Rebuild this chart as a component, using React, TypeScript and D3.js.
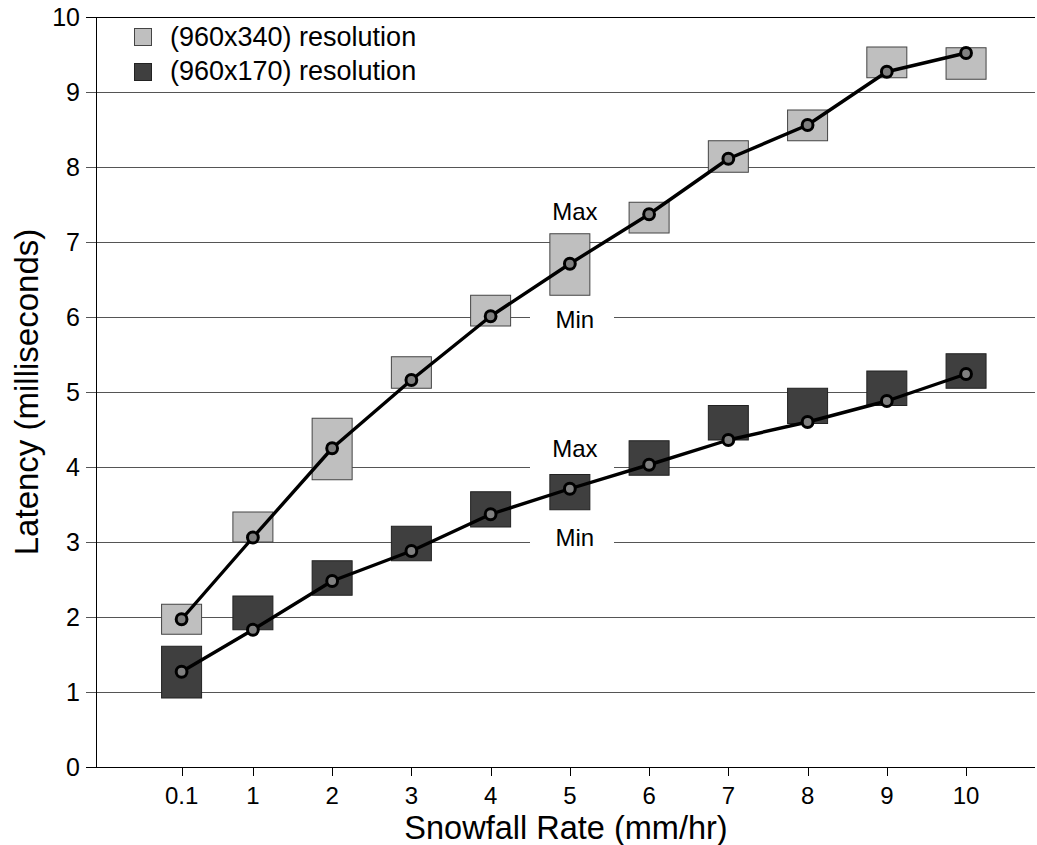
import React from "react";
import * as d3 from "d3";

const categories = ["0.1", "1", "2", "3", "4", "5", "6", "7", "8", "9", "10"];
const xValues = [0.1, 1, 2, 3, 4, 5, 6, 7, 8, 9, 10];

const hiMean = [1.97, 3.06, 4.25, 5.16, 6.01, 6.71, 7.37, 8.11, 8.56, 9.27, 9.52];
const hiMin = [1.77, 3.0, 3.83, 5.05, 5.88, 6.29, 7.12, 7.93, 8.35, 9.19, 9.17];
const hiMax = [2.17, 3.4, 4.65, 5.47, 6.29, 7.11, 7.53, 8.35, 8.76, 9.6, 9.59];

const loMean = [1.27, 1.83, 2.48, 2.88, 3.37, 3.71, 4.03, 4.36, 4.6, 4.88, 5.24];
const loMin = [0.92, 1.83, 2.29, 2.75, 3.2, 3.43, 3.89, 4.36, 4.58, 4.82, 5.05];
const loMax = [1.61, 2.28, 2.75, 3.21, 3.67, 3.9, 4.35, 4.82, 5.05, 5.28, 5.51];

const yTicks = [0, 1, 2, 3, 4, 5, 6, 7, 8, 9, 10];
const seriesNames = ["(960x340) resolution", "(960x170) resolution"];
const annotations = [
  { label: "Max", value: 7.3 },
  { label: "Min", value: 5.86 },
  { label: "Max", value: 4.13 },
  { label: "Min", value: 2.95 },
];

const W = 1037;
const H = 845;
const FONT = "'Liberation Sans', Arial, Helvetica, sans-serif";

export default function App() {
  const x = d3.scaleLinear().domain([-0.98, 10.87]).range([96, 1035]);
  const y = d3.scaleLinear().domain([0, 10]).range([767, 17]);
  const boxW = 40;
  const annX = 5;

  const line = d3
    .line<number>()
    .x((_, i) => x(xValues[i]))
    .y((d) => y(d));

  const series = [
    { mean: hiMean, min: hiMin, max: hiMax, fill: "#bfbfbf", stroke: "#444" },
    { mean: loMean, min: loMin, max: loMax, fill: "#3f3f3f", stroke: "#222" },
  ];

  return (
    <svg
      width={W}
      height={H}
      style={{ position: "absolute", left: 0, top: 0, background: "#fff" }}
      fontFamily={FONT}
    >
      <rect x={0} y={0} width={W} height={H} fill="#fff" />
      {/* gridlines */}
      {yTicks.map((t) => (
        <g key={"g" + t}>
          <line
            x1={86}
            x2={1035}
            y1={y(t) + 0.5}
            y2={y(t) + 0.5}
            stroke={t === 0 || t === 10 ? "#000" : "#555"}
            strokeWidth={1}
          />
          <text
            x={80}
            y={y(t)}
            dy="0.36em"
            textAnchor="end"
            fontSize={25}
            fill="#000"
          >
            {t}
          </text>
        </g>
      ))}
      {/* y axis */}
      <line x1={96.5} x2={96.5} y1={y(10)} y2={y(0)} stroke="#000" strokeWidth={1} />
      {/* x ticks */}
      {xValues.map((v, i) => (
        <g key={"x" + i}>
          <line
            x1={Math.round(x(v)) + 0.5}
            x2={Math.round(x(v)) + 0.5}
            y1={767}
            y2={776}
            stroke="#000"
          />
          <text x={x(v)} y={804} textAnchor="middle" fontSize={24} fill="#000">
            {categories[i]}
          </text>
        </g>
      ))}
      {/* annotation labels */}
      {annotations.map((a, i) => (
        <g key={"a" + i}>
          <rect
            x={530}
            width={84}
            y={y(a.value) - 27}
            height={42}
            fill="#fff"
          />
          <text
            x={x(annX) + 5}
            y={y(a.value)}
            textAnchor="middle"
            fontSize={24}
            fill="#000"
          >
            {a.label}
          </text>
        </g>
      ))}
      {/* boxes */}
      {series.map((s, si) =>
        xValues.map((v, i) => (
          <rect
            key={"b" + si + "-" + i}
            x={x(v) - boxW / 2}
            width={boxW}
            y={y(s.max[i])}
            height={y(s.min[i]) - y(s.max[i])}
            fill={s.fill}
            stroke={s.stroke}
            strokeWidth={1}
          />
        ))
      )}
      {/* lines */}
      {series.map((s, si) => (
        <path
          key={"l" + si}
          d={line(s.mean) || ""}
          fill="none"
          stroke="#000"
          strokeWidth={3.4}
          strokeLinejoin="round"
        />
      ))}
      {series.map((s, si) =>
        s.mean.map((m, i) => (
          <circle
            key={"c" + si + "-" + i}
            cx={x(xValues[i])}
            cy={y(m)}
            r={5.4}
            fill="#808080"
            stroke="#000"
            strokeWidth={3}
          />
        ))
      )}
      {/* legend */}
      {series.map((s, si) => (
        <g key={"lg" + si}>
          <rect
            x={134.5}
            y={28.5 + si * 35}
            width={17}
            height={17}
            fill={s.fill}
            stroke={s.stroke}
          />
          <text x={170} y={46 + si * 34} fontSize={27} fill="#000">
            {seriesNames[si]}
          </text>
        </g>
      ))}
      {/* axis titles */}
      <text x={566} y={839} textAnchor="middle" fontSize={32.5} fill="#000">
        Snowfall Rate (mm/hr)
      </text>
      <text
        transform={`translate(38,392) rotate(-90)`}
        textAnchor="middle"
        fontSize={33}
        fill="#000"
      >
        Latency (milliseconds)
      </text>
    </svg>
  );
}
